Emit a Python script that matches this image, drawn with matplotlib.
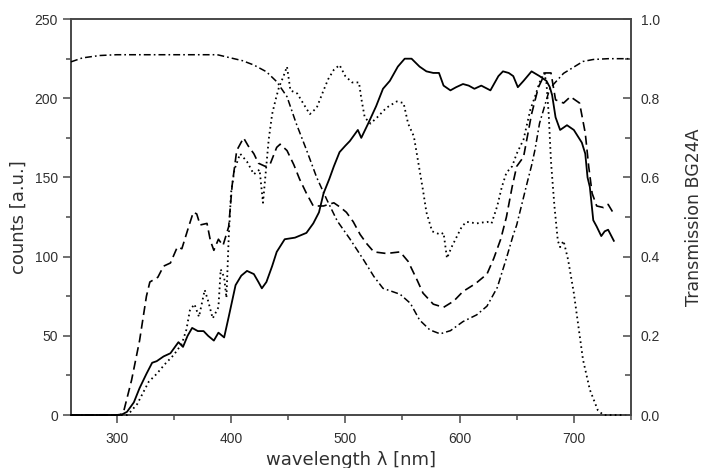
import numpy as np
import matplotlib
matplotlib.use('Agg')
import matplotlib.pyplot as plt
from matplotlib.ticker import MultipleLocator

# Colores
COLOR_LINEA = 'black'
COLOR_EJES = '#484848'
COLOR_TEXTO = '#303030'

plt.rcParams['lines.scale_dashes'] = False

# Espectro (linea continua)
solid_nm = [260, 300, 305, 309, 315, 320, 326, 331, 335, 341, 347, 351, 354, 358, 362,
            366, 371, 376, 380, 385, 389, 394, 398, 401, 404, 409, 414, 420, 424, 427,
            431, 436, 440, 447, 456, 466, 472, 477, 481, 486, 490, 495, 500, 504, 511,
            514, 520, 527, 533, 539, 546, 552, 558, 565, 571, 577, 582, 586, 592, 597,
            603, 608, 613, 619, 627, 634, 638, 643, 647, 651, 656, 663, 670, 676, 679,
            681, 684, 688, 694, 700, 707, 710, 712, 714, 717, 720, 724, 727, 730, 735]
solid_counts = [0, 0, 0.5, 2, 8, 17, 26, 33, 34, 37, 39, 43, 46, 43, 50,
                55, 53, 53, 50, 47, 52, 49, 62, 72, 82, 88, 91, 89, 84, 80,
                84, 94, 103, 111, 112, 115, 121, 128, 140, 149, 157, 166, 170, 173, 180,
                175, 184, 195, 206, 211, 220, 225, 225, 220, 217, 216, 216, 208, 205, 207,
                209, 208, 206, 208, 205, 214, 217, 216, 214, 207, 211, 217, 214, 211, 207,
                202, 188, 180, 183, 180, 172, 165, 150, 144, 123, 119, 113, 116, 117, 110]

# Espectro (linea discontinua)
dashed_nm = [260, 303, 306, 313, 320, 326, 329, 336, 341, 347, 353, 357, 363, 367, 370,
             373, 379, 382, 385, 389, 393, 398, 401, 405, 411, 415, 420, 424, 430, 434,
             440, 443, 449, 455, 460, 466, 472, 481, 490, 496, 501, 507, 513, 519, 525,
             536, 548, 555, 563, 568, 577, 586, 595, 603, 614, 624, 630, 636, 641, 646,
             650, 656, 663, 669, 675, 680, 684, 691, 697, 705, 710, 713, 716, 720, 726,
             730, 735]
dashed_counts = [0, 0, 2, 22, 47, 75, 84, 87, 94, 96, 106, 105, 119, 128, 127,
                 120, 121, 110, 104, 111, 107, 119, 145, 167, 175, 170, 165, 159, 157, 158,
                 169, 171, 167, 158, 149, 140, 132, 132, 134, 131, 128, 122, 114, 108, 103,
                 102, 103, 97, 85, 77, 70, 68, 72, 78, 83, 89, 99, 111, 125, 144,
                 157, 163, 190, 207, 216, 216, 199, 197, 201, 197, 178, 157, 140, 132, 131,
                 133, 127]

# Espectro (linea punteada)
dotted_nm = [260, 309, 312, 318, 323, 328, 335, 342, 350, 357, 361, 364, 368, 372, 377,
             380, 384, 389, 391, 394, 396, 398, 400, 403, 408, 414, 420, 425, 428, 433,
             436, 439, 442, 446, 449, 452, 458, 463, 469, 475, 481, 485, 490, 495, 500,
             506, 512, 514, 517, 522, 528, 536, 545, 551, 555, 560, 564, 568, 571, 576,
             583, 586, 589, 593, 602, 606, 615, 624, 628, 633, 637, 641, 646, 650, 656,
             662, 666, 670, 674, 676, 678, 680, 683, 686, 688, 691, 695, 700, 704, 708,
             714, 721, 726, 748]
dotted_counts = [0, 0, 2, 7, 14, 21, 26, 32, 38, 45, 54, 66, 70, 62, 79,
                 72, 61, 68, 92, 87, 74, 112, 140, 155, 165, 160, 152, 155, 134, 174,
                 190, 199, 207, 214, 220, 205, 203, 197, 190, 194, 205, 212, 218, 221, 214,
                 210, 210, 200, 188, 184, 188, 194, 198, 197, 184, 176, 159, 142, 128, 116,
                 114, 115, 99, 106, 119, 122, 121, 122, 121, 132, 144, 153, 157, 165, 174,
                 193, 201, 210, 216, 210, 190, 160, 132, 110, 106, 110, 98, 77, 56, 35,
                 16, 3, 0, 0]

# Transmision del filtro BG24A (eje derecho)
trans_nm = [260, 270, 285, 300, 350, 388, 410, 420, 431, 440, 449, 457, 466, 475, 484,
            493, 504, 516, 525, 533, 548, 557, 565, 574, 583, 592, 603, 615, 624, 633,
            641, 647, 650, 659, 663, 666, 670, 679, 691, 708, 717, 730, 750]
trans_val = [0.892, 0.902, 0.908, 0.91, 0.91, 0.91, 0.895, 0.884, 0.867, 0.842, 0.804, 0.737,
             0.67, 0.60, 0.543, 0.49, 0.445, 0.392, 0.35, 0.32, 0.305, 0.282, 0.24, 0.215,
             0.205, 0.213, 0.236, 0.253, 0.275, 0.322, 0.396, 0.455, 0.48, 0.585, 0.63, 0.67,
             0.737, 0.825, 0.863, 0.893, 0.898, 0.90, 0.90]


def generar_grafico():
    fig = plt.figure(figsize=(7.1, 4.68), dpi=100)
    ax1 = fig.add_axes([0.1, 0.1132, 0.7887, 0.846])
    ax2 = ax1.twinx()

    # lineas por encima de los ejes para que la base en cero se vea
    kw = dict(color=COLOR_LINEA, clip_on=False, zorder=5)
    ax1.plot(solid_nm, solid_counts, linewidth=1.3, **kw)
    ax1.plot(dashed_nm, dashed_counts, linewidth=1.2, dashes=(6.5, 3.5), **kw)
    ax1.plot(dotted_nm, dotted_counts, linewidth=1.3, dashes=(1.2, 2.4), **kw)
    ax2.plot(trans_nm, trans_val, linewidth=1.1, dashes=(5, 2.2, 1.2, 2.2), **kw)

    ax1.set_xlim(260, 750)
    ax1.set_ylim(0, 250)
    ax2.set_ylim(0, 1.0)

    ax1.xaxis.set_major_locator(MultipleLocator(100))
    ax1.xaxis.set_minor_locator(MultipleLocator(50))
    ax1.yaxis.set_major_locator(MultipleLocator(50))
    ax1.yaxis.set_minor_locator(MultipleLocator(25))
    ax2.yaxis.set_major_locator(MultipleLocator(0.2))
    ax2.yaxis.set_minor_locator(MultipleLocator(0.1))
    ax2.yaxis.set_major_formatter(plt.FormatStrFormatter('%.1f'))

    # marco: abajo/arriba/izquierda en ax1, derecha en ax2
    for sp in ax1.spines.values():
        sp.set_color(COLOR_EJES)
        sp.set_linewidth(1.4)
        sp.set_zorder(2)
    ax1.spines['right'].set_visible(False)
    for nombre in ('left', 'top', 'bottom'):
        ax2.spines[nombre].set_visible(False)
    ax2.spines['right'].set_color(COLOR_EJES)
    ax2.spines['right'].set_linewidth(1.4)

    ax1.tick_params(axis='x', which='major', direction='out', length=5.5, width=1.1,
                    color=COLOR_EJES, labelsize=10, labelcolor=COLOR_TEXTO, pad=7)
    ax1.tick_params(axis='x', which='minor', direction='out', length=3.5, width=1.1,
                    color=COLOR_EJES)
    ax1.tick_params(axis='y', which='major', direction='out', length=5.5, width=1.1,
                    color=COLOR_EJES, labelsize=10, labelcolor=COLOR_TEXTO, pad=4)
    ax1.tick_params(axis='y', which='minor', direction='out', length=3.5, width=1.1,
                    color=COLOR_EJES)
    ax2.tick_params(axis='y', which='major', direction='in', length=6, width=1.1,
                    color=COLOR_EJES, labelsize=10, labelcolor=COLOR_TEXTO, pad=7)
    ax2.tick_params(axis='y', which='minor', direction='in', length=4, width=1.1,
                    color=COLOR_EJES)

    fuente = ['Liberation Sans', 'DejaVu Sans']
    for lab in ax1.get_xticklabels() + ax1.get_yticklabels() + ax2.get_yticklabels():
        lab.set_family(fuente)

    ax1.set_xlabel('wavelength λ [nm]', fontsize=13, color=COLOR_TEXTO,
                   family='DejaVu Sans', labelpad=3)
    ax1.set_ylabel('counts [a.u.]', fontsize=13, color=COLOR_TEXTO,
                   family='DejaVu Sans', labelpad=5)
    ax2.set_ylabel('Transmission BG24A', fontsize=12.5, color=COLOR_TEXTO,
                   family='DejaVu Sans', labelpad=18)

    fig.savefig('out.png', dpi=100)
    plt.close(fig)


if __name__ == '__main__':
    generar_grafico()
